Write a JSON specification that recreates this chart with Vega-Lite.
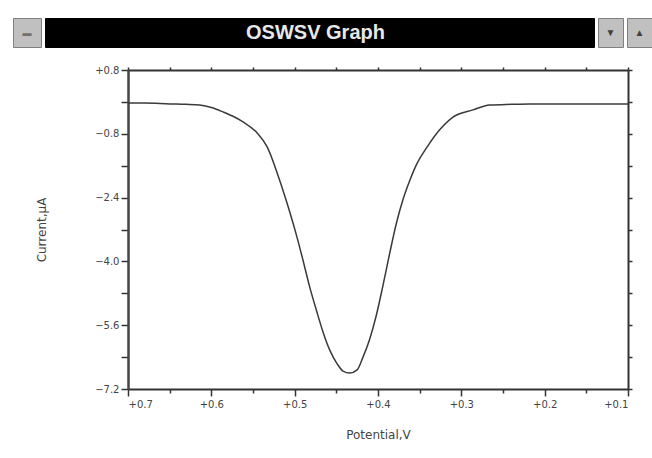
{
  "$schema": "https://vega.github.io/schema/vega-lite/v6.json",
  "padding": {"left": 12, "top": 17, "right": 7, "bottom": 14},
  "background": "white",
  "config": {
    "font": "Liberation Sans"
  },
  "datasets": {
    "curve": [
      {"potential": 0.700, "current": -0.03},
      {"potential": 0.680, "current": -0.03},
      {"potential": 0.650, "current": -0.05},
      {"potential": 0.630, "current": -0.06},
      {"potential": 0.614, "current": -0.08},
      {"potential": 0.600, "current": -0.14},
      {"potential": 0.586, "current": -0.25},
      {"potential": 0.574, "current": -0.36},
      {"potential": 0.562, "current": -0.50},
      {"potential": 0.545, "current": -0.78},
      {"potential": 0.533, "current": -1.13},
      {"potential": 0.521, "current": -1.78},
      {"potential": 0.509, "current": -2.55},
      {"potential": 0.497, "current": -3.41},
      {"potential": 0.490, "current": -3.97},
      {"potential": 0.482, "current": -4.64},
      {"potential": 0.474, "current": -5.22},
      {"potential": 0.466, "current": -5.77},
      {"potential": 0.458, "current": -6.22},
      {"potential": 0.449, "current": -6.57},
      {"potential": 0.442, "current": -6.75},
      {"potential": 0.434, "current": -6.80},
      {"potential": 0.425, "current": -6.72},
      {"potential": 0.418, "current": -6.40},
      {"potential": 0.410, "current": -5.95},
      {"potential": 0.402, "current": -5.35},
      {"potential": 0.394, "current": -4.60},
      {"potential": 0.386, "current": -3.80},
      {"potential": 0.378, "current": -3.05},
      {"potential": 0.370, "current": -2.45},
      {"potential": 0.362, "current": -1.98},
      {"potential": 0.354, "current": -1.58},
      {"potential": 0.341, "current": -1.13},
      {"potential": 0.326, "current": -0.70},
      {"potential": 0.310, "current": -0.38},
      {"potential": 0.286, "current": -0.20},
      {"potential": 0.266, "current": -0.08},
      {"potential": 0.240, "current": -0.06},
      {"potential": 0.218, "current": -0.05},
      {"potential": 0.150, "current": -0.05},
      {"potential": 0.100, "current": -0.05}
    ]
  },
  "spacing": 16,
  "vconcat": [
    {
      "spacing": 2,
      "hconcat": [
        {
          "width": 28, "height": 29,
          "view": {"fill": "#c0c0c0", "stroke": "#808080"},
          "data": {"values": [{"glyph": "▬"}]},
          "mark": {"type": "text", "color": "#707070", "fontSize": 9, "baseline": "middle"},
          "encoding": {"text": {"field": "glyph"}}
        },
        {
          "width": 549, "height": 29,
          "view": {"fill": "#000000", "stroke": "#000000"},
          "data": {"values": [{"label": "OSWSV Graph"}]},
          "mark": {"type": "text", "color": "#e8e8e8", "fontSize": 20, "fontWeight": "bold", "baseline": "middle", "font": "Liberation Sans", "dx": -4},
          "encoding": {"text": {"field": "label"}}
        },
        {
          "width": 25, "height": 29,
          "view": {"fill": "#c0c0c0", "stroke": "#808080"},
          "data": {"values": [{"glyph": "▼"}]},
          "mark": {"type": "text", "color": "#404040", "fontSize": 10, "baseline": "middle"},
          "encoding": {"text": {"field": "glyph"}}
        },
        {
          "width": 25, "height": 29,
          "view": {"fill": "#c0c0c0", "stroke": "#808080"},
          "data": {"values": [{"glyph": "▲"}]},
          "mark": {"type": "text", "color": "#404040", "fontSize": 10, "baseline": "middle"},
          "encoding": {"text": {"field": "glyph"}}
        }
      ]
    },
    {
      "spacing": 0,
      "hconcat": [
        {
          "width": 1, "height": 1,
          "view": {"stroke": null},
          "data": {"values": [{"label": ""}]},
          "mark": {"type": "text"},
          "encoding": {"text": {"field": "label"}}
        },
        {
          "width": 500,
          "height": 319,
          "view": {"stroke": null},
          "data": {"name": "curve"},
          "layer": [
            {
              "mark": {"type": "line", "color": "#3a3a3a", "strokeWidth": 1.5, "interpolate": "monotone"},
              "encoding": {
                "x": {
                  "field": "potential", "type": "quantitative",
                  "scale": {"domain": [0.1, 0.7], "reverse": true, "nice": false, "zero": false},
                  "axis": {
                    "orient": "bottom",
                    "title": "Potential,V",
                    "titleFont": "DejaVu Sans", "titleFontSize": 12, "titleFontWeight": "normal", "titleColor": "#444444", "titlePadding": 20,
                    "values": [0.7, 0.65, 0.6, 0.55, 0.5, 0.45, 0.4, 0.35, 0.3, 0.25, 0.2, 0.15, 0.1],
                    "labelExpr": "round(datum.value*100) % 10 == 0 ? '+' + format(datum.value, '.1f') : ''",
                    "tickSize": {"condition": {"test": "round(datum.value*100) % 10 == 0", "value": 7}, "value": 4},
                    "labelFont": "DejaVu Sans", "labelFontSize": 10, "labelColor": "#444444", "labelPadding": 3,
                    "tickColor": "#333333", "tickWidth": 1.5,
                    "domainColor": "#333333", "domainWidth": 2,
                    "grid": false
                  }
                },
                "y": {
                  "field": "current", "type": "quantitative",
                  "scale": {"domain": [-7.2, 0.8], "nice": false, "zero": false},
                  "axis": {
                    "orient": "left",
                    "title": ["", "Current,µA"],
                    "titleLineHeight": 21,
                    "titleFont": "DejaVu Sans", "titleFontSize": 12, "titleFontWeight": "normal", "titleColor": "#444444", "titlePadding": 46,
                    "values": [0.8, 0, -0.8, -1.6, -2.4, -3.2, -4, -4.8, -5.6, -6.4, -7.2],
                    "labelExpr": "abs(round(datum.value/0.8)) % 2 == 1 ? (datum.value > 0 ? '+' : '') + format(datum.value, '.1f') : ''",
                    "tickSize": 7,
                    "labelFont": "DejaVu Sans", "labelFontSize": 10, "labelColor": "#444444", "labelPadding": 2,
                    "tickColor": "#333333", "tickWidth": 1.5,
                    "domainColor": "#444444", "domainWidth": 2.5,
                    "grid": false
                  }
                }
              }
            },
            {
              "mark": {"type": "line", "opacity": 0},
              "encoding": {
                "x": {
                  "field": "potential", "type": "quantitative",
                  "axis": {
                    "orient": "top", "title": null, "labels": false,
                    "values": [0.7, 0.65, 0.6, 0.55, 0.5, 0.45, 0.4, 0.35, 0.3, 0.25, 0.2, 0.15, 0.1],
                    "tickSize": 3, "tickColor": "#333333", "tickWidth": 1.5,
                    "domainColor": "#333333", "domainWidth": 2, "grid": false
                  }
                },
                "y": {
                  "field": "current", "type": "quantitative",
                  "axis": {
                    "orient": "right", "title": null, "labels": false,
                    "values": [0.8, 0, -0.8, -1.6, -2.4, -3.2, -4, -4.8, -5.6, -6.4, -7.2],
                    "tickSize": 4, "tickColor": "#333333", "tickWidth": 1.5,
                    "domainColor": "#333333", "domainWidth": 2, "grid": false
                  }
                }
              }
            }
          ],
          "resolve": {"axis": {"x": "independent", "y": "independent"}}
        }
      ]
    }
  ]
}
